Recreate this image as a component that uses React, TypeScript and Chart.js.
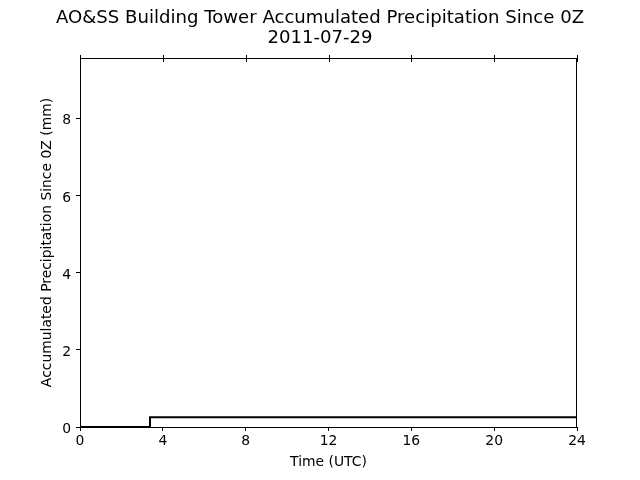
import React, { useEffect, useRef } from "react";
import { Chart, registerables } from "chart.js";

Chart.register(...registerables);

const titleLines = ["AO&SS Building Tower Accumulated Precipitation Since 0Z", "2011-07-29"];
const times = [0, 3.38, 24];
const precip = [0, 0.254, 0.254];
const xTicks = [0, 4, 8, 12, 16, 20, 24];
const yTicks = [0, 2, 4, 6, 8];
const xLabel = "Time (UTC)";
const yLabel = "Accumulated Precipitation Since 0Z (mm)";

const FONT = "'DejaVu Sans', sans-serif";

const framePlugin = {
  id: "frame",
  afterDraw(chart: any) {
    const { ctx, chartArea } = chart;
    const { left, right, top, bottom } = chartArea;
    const xs = chart.scales.x;
    const ys = chart.scales.y;
    ctx.save();
    ctx.strokeStyle = "#000";
    ctx.lineWidth = 1;
    ctx.beginPath();
    ctx.moveTo(left, top + 0.5);
    ctx.lineTo(right, top + 0.5);
    ctx.moveTo(right - 0.5, top);
    ctx.lineTo(right - 0.5, bottom);
    ctx.stroke();
    ctx.beginPath();
    xTicks.forEach((t) => {
      const px = Math.round(xs.getPixelForValue(t)) + 0.5;
      ctx.moveTo(px, top - 3);
      ctx.lineTo(px, top + 4);
    });
    ctx.stroke();
    ctx.fillStyle = "#000";
    ctx.textBaseline = "middle";
    ctx.font = `13.9px ${FONT}`;
    ctx.textAlign = "center";
    xTicks.forEach((t) => {
      ctx.fillText(String(t), xs.getPixelForValue(t), 441.5);
    });
    ctx.textAlign = "right";
    yTicks.forEach((t) => {
      ctx.fillText(String(t), 71, ys.getPixelForValue(t) + 2);
    });
    ctx.textAlign = "center";
    ctx.font = `18.1px ${FONT}`;
    ctx.fillText(titleLines[0], 320, 18);
    ctx.fillText(titleLines[1], 320, 38);
    ctx.font = `13.9px ${FONT}`;
    ctx.fillText(xLabel, (left + right) / 2, 462);
    ctx.translate(47, (top + bottom) / 2);
    ctx.rotate(-Math.PI / 2);
    ctx.fillText(yLabel, 0, 0);
    ctx.restore();
  },
};

export default function App() {
  const ref = useRef<HTMLCanvasElement>(null);
  useEffect(() => {
    if (!ref.current) return;
    const chart = new Chart(ref.current, {
      type: "line",
      data: {
        datasets: [
          {
            data: times.map((t, i) => ({ x: t, y: precip[i] })),
            borderColor: "#000",
            borderWidth: 2,
            pointRadius: 0,
            stepped: "before",
            fill: false,
          },
        ],
      },
      options: {
        animation: false,
        responsive: false,
        layout: { padding: { top: 58, right: 63, left: 0, bottom: 0 } },
        plugins: { legend: { display: false }, title: { display: false }, tooltip: { enabled: false } },
        scales: {
          x: {
            type: "linear",
            min: 0,
            max: 24,
            afterBuildTicks: (s: any) => {
              s.ticks = xTicks.map((v) => ({ value: v }));
            },
            afterFit: (s: any) => {
              s.height = 53;
            },
            grid: { display: true, drawOnChartArea: false, drawTicks: true, tickLength: 4, color: "#000" },
            border: { display: true, color: "#000", width: 1 },
            ticks: { display: false },
            title: { display: false },
          },
          y: {
            type: "linear",
            min: 0,
            max: 9.58,
            afterBuildTicks: (s: any) => {
              s.ticks = yTicks.map((v) => ({ value: v }));
            },
            afterFit: (s: any) => {
              s.width = 80;
            },
            grid: { display: true, drawOnChartArea: false, drawTicks: true, tickLength: 4, color: "#000" },
            border: { display: true, color: "#000", width: 1 },
            ticks: { display: false },
            title: { display: false },
          },
        },
      },
      plugins: [framePlugin],
    } as any);
    return () => chart.destroy();
  }, []);
  return (
    <div style={{ position: "fixed", left: 0, top: 0, width: 640, height: 480, background: "#fff" }}>
      <canvas ref={ref} width={640} height={480} style={{ width: 640, height: 480 }} />
    </div>
  );
}
